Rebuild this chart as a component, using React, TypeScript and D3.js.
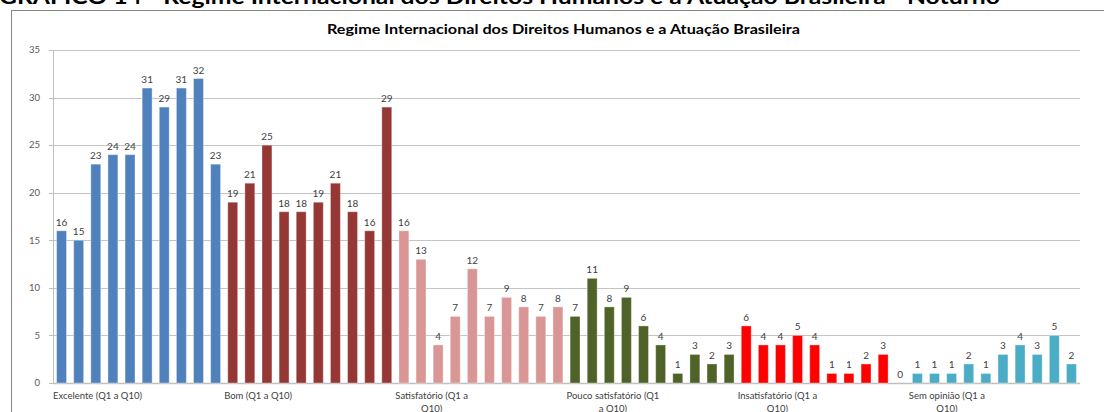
import React, { useEffect, useRef } from "react";
import * as d3 from "d3";

const heading = "GRÁFICO 14 - Regime Internacional dos Direitos Humanos e a Atuação Brasileira - Noturno";
const chartTitle = "Regime Internacional dos Direitos Humanos e a Atuação Brasileira";

const groupLabels: string[][] = [
  ["Excelente (Q1 a Q10)"],
  ["Bom (Q1 a Q10)"],
  ["Satisfatório (Q1 a", "Q10)"],
  ["Pouco satisfatório (Q1", "a Q10)"],
  ["Insatisfatório (Q1 a", "Q10)"],
  ["Sem opinião (Q1 a", "Q10)"],
];
const groupColors = ["#4F81BD", "#953735", "#D99694", "#4F6228", "#FF0000", "#4BACC6"];

const excelente = [16, 15, 23, 24, 24, 31, 29, 31, 32, 23];
const bom = [19, 21, 25, 18, 18, 19, 21, 18, 16, 29];
const satisfatorio = [16, 13, 4, 7, 12, 7, 9, 8, 7, 8];
const poucoSatisfatorio = [7, 11, 8, 9, 6, 4, 1, 3, 2, 3];
const insatisfatorio = [6, 4, 4, 5, 4, 1, 1, 2, 3, 0];
const semOpiniao = [1, 1, 1, 2, 1, 3, 4, 3, 5, 2];

const groups = [excelente, bom, satisfatorio, poucoSatisfatorio, insatisfatorio, semOpiniao];
const yTicks = [0, 5, 10, 15, 20, 25, 30, 35];

const W = 1104;
const H = 412;
const FONT = "Lato, 'Open Sans', sans-serif";

export default function App() {
  const ref = useRef<SVGSVGElement | null>(null);

  useEffect(() => {
    const svg = d3.select(ref.current);
    svg.selectAll("*").remove();

    const rows = groups.flatMap((vals, g) =>
      vals.map((v, q) => ({ key: `${g}-${q}`, g, q, v }))
    );

    const left = 53, right = 1080, top = 50, bottom = 383;

    const x = d3
      .scaleBand<string>()
      .domain(rows.map((r) => r.key))
      .range([left, right])
      .paddingInner(0.42)
      .paddingOuter(0.21);
    const y = d3.scaleLinear().domain([0, 35]).range([bottom, top]);

    // heading (cut off at the top, as in the source)
    svg
      .append("text")
      .attr("x", -1)
      .attr("y", 4)
      .attr("font-family", FONT)
      .attr("font-weight", 700)
      .attr("font-size", 20)
      .attr("fill", "#000")
      .attr("textLength", 1001)
      .attr("lengthAdjust", "spacingAndGlyphs")
      .text(heading);

    // chart frame
    svg
      .append("rect")
      .attr("x", 11.5)
      .attr("y", 10.5)
      .attr("width", W + 20)
      .attr("height", H + 20)
      .attr("fill", "#fff")
      .attr("stroke", "#868686")
      .attr("stroke-width", 1);

    // title
    svg
      .append("text")
      .attr("x", 327)
      .attr("y", 34)
      .attr("font-family", FONT)
      .attr("font-weight", 700)
      .attr("font-size", 14)
      .attr("fill", "#000")
      .attr("textLength", 473)
      .attr("lengthAdjust", "spacingAndGlyphs")
      .text(chartTitle);

    // gridlines
    svg
      .append("g")
      .selectAll("line")
      .data(yTicks)
      .join("line")
      .attr("x1", left)
      .attr("x2", right)
      .attr("y1", (d) => Math.round(y(d)) + 0.5)
      .attr("y2", (d) => Math.round(y(d)) + 0.5)
      .attr("stroke", (d) => (d === 0 ? "#BFBFBF" : "#C4C4C4"))
      .attr("stroke-width", (d) => (d === 0 ? 1.5 : 1));

    // y axis line
    svg
      .append("line")
      .attr("x1", left + 0.5)
      .attr("x2", left + 0.5)
      .attr("y1", y(35))
      .attr("y2", y(0))
      .attr("stroke", "#BFBFBF");

    // y tick marks
    svg
      .append("g")
      .selectAll("line")
      .data(yTicks)
      .join("line")
      .attr("x1", left - 4)
      .attr("x2", left)
      .attr("y1", (d) => Math.round(y(d)) + 0.5)
      .attr("y2", (d) => Math.round(y(d)) + 0.5)
      .attr("stroke", "#BFBFBF");

    // y tick labels
    svg
      .append("g")
      .selectAll("text")
      .data(yTicks)
      .join("text")
      .attr("x", 40)
      .attr("y", (d) => y(d))
      .attr("dy", "0.35em")
      .attr("text-anchor", "end")
      .attr("font-family", FONT)
      .attr("font-size", 9.5)
      .attr("fill", "#595959")
      .text((d) => String(d));

    // bars
    svg
      .append("g")
      .selectAll("rect")
      .data(rows)
      .join("rect")
      .attr("x", (d) => x(d.key)!)
      .attr("y", (d) => y(d.v))
      .attr("width", x.bandwidth())
      .attr("height", (d) => y(0) - y(d.v))
      .attr("fill", (d) => groupColors[d.g])
      .attr("stroke", "rgba(255,255,255,0.35)")
      .attr("stroke-width", 1);

    // value labels
    svg
      .append("g")
      .selectAll("text")
      .data(rows)
      .join("text")
      .attr("x", (d) => x(d.key)! + x.bandwidth() / 2)
      .attr("y", (d) => y(d.v) - 5)
      .attr("text-anchor", "middle")
      .attr("font-family", FONT)
      .attr("font-size", 10)
      .attr("fill", "#404040")
      .text((d) => String(d.v));

    // category labels: box starts at group start, lines centred in box
    const step = x.step();
    groupLabels.forEach((lines, g) => {
      const startKey = `${g}-0`;
      const bandStart = x(startKey)! - (step - x.bandwidth()) / 2;
      const gText = svg.append("g");
      const texts = lines.map((ln, i) =>
        gText
          .append("text")
          .attr("y", 399 + i * 12.5)
          .attr("text-anchor", "middle")
          .attr("font-family", FONT)
          .attr("font-size", 9.5)
          .attr("fill", "#404040")
          .text(ln)
      );
      const widths = texts.map((t) => (t.node() as SVGTextElement).getComputedTextLength());
      const boxW = Math.max(...widths);
      texts.forEach((t) => t.attr("x", bandStart + boxW / 2));
    });
  }, []);

  return (
    <svg
      ref={ref}
      width={W}
      height={H}
      style={{ position: "absolute", left: 0, top: 0, display: "block", background: "#fff" }}
    />
  );
}
